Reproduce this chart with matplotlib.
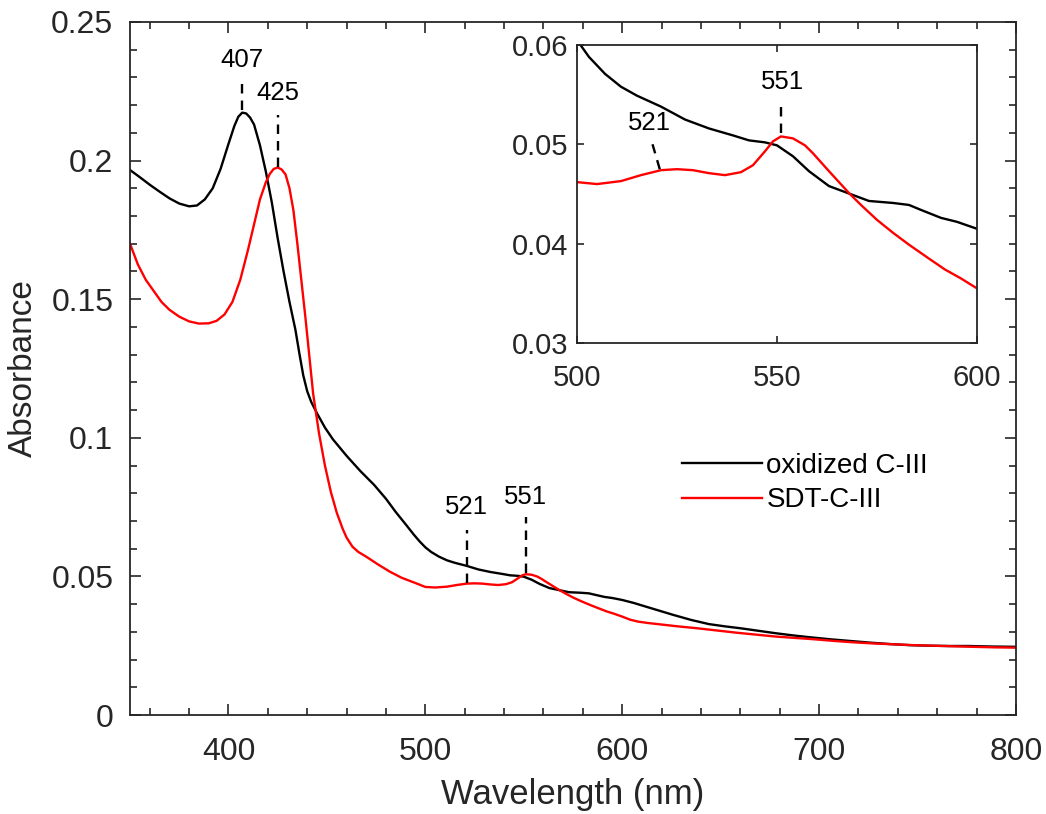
import matplotlib
matplotlib.use('Agg')
import matplotlib.pyplot as plt

plt.rcParams['font.family'] = ['Liberation Sans', 'DejaVu Sans']

# Absorbance spectra (wavelength in nm)
wl_ox = [350, 355, 360, 365, 370, 375, 380, 384, 388, 392, 396, 400, 403, 405, 407,
         409, 411, 413, 416, 419, 422, 425, 428, 431, 434, 436, 438, 440, 442, 445,
         449, 453, 460, 467, 474, 480, 485, 490, 494, 497, 500, 503, 507, 511, 515,
         521, 527, 533, 539, 543, 547, 550, 554, 558, 563, 569, 573, 579, 583, 586,
         591, 595, 600, 606, 612, 619, 626, 635, 644, 652, 660, 670, 678, 687, 696,
         706, 716, 726, 736, 746, 756, 766, 776, 788, 800]
abs_ox = [0.1966, 0.1940, 0.1913, 0.1888, 0.1864, 0.1845, 0.1835, 0.1838, 0.1860, 0.1900,
          0.1970, 0.2060, 0.2125, 0.2158, 0.2173, 0.2170, 0.2155, 0.2130, 0.2055, 0.1960,
          0.1850, 0.1720, 0.1600, 0.1490, 0.1390, 0.1305, 0.1225, 0.1168, 0.1130, 0.1088,
          0.1037, 0.0995, 0.0935, 0.0880, 0.0830, 0.0780, 0.0732, 0.0688, 0.0652, 0.0627,
          0.0605, 0.0588, 0.0571, 0.0558, 0.0549, 0.0538, 0.0525, 0.0516, 0.0509, 0.0504,
          0.0502, 0.0499, 0.0488, 0.0473, 0.0458, 0.0449, 0.0443, 0.0441, 0.0439, 0.0434,
          0.0426, 0.0422, 0.0415, 0.0404, 0.0391, 0.0376, 0.0361, 0.0343, 0.0328, 0.0320,
          0.0313, 0.0303, 0.0295, 0.0287, 0.0280, 0.0273, 0.0267, 0.0261, 0.0256, 0.0252,
          0.0250, 0.0249, 0.0249, 0.0247, 0.0246]

wl_sdt = [350, 354, 358, 362, 366, 370, 375, 380, 385, 390, 394, 398, 402, 406, 410,
          413, 416, 419, 421, 423, 425, 427, 429, 431, 433, 435, 437, 439, 441, 443,
          446, 449, 452, 455, 458, 460, 463, 466, 470, 476, 482, 488, 495, 500, 505,
          511, 516, 521, 525, 529, 533, 537, 541, 544, 547, 549, 551, 554, 557, 559,
          563, 568, 571, 575, 579, 583, 588, 592, 596, 600, 604, 608, 613, 618, 628,
          638, 648, 658, 668, 678, 688, 698, 708, 718, 728, 738, 748, 758, 768, 778,
          790, 800]
abs_sdt = [0.1700, 0.1625, 0.1570, 0.1530, 0.1490, 0.1462, 0.1437, 0.1420, 0.1412, 0.1413,
           0.1422, 0.1445, 0.1490, 0.1570, 0.1680, 0.1770, 0.1860, 0.1922, 0.1952, 0.1970,
           0.1975, 0.1968, 0.1950, 0.1900, 0.1820, 0.1700, 0.1570, 0.1440, 0.1300, 0.1160,
           0.1016, 0.0900, 0.0805, 0.0730, 0.0672, 0.0640, 0.0607, 0.0588, 0.0571, 0.0543,
           0.0517, 0.0495, 0.0476, 0.0462, 0.0460, 0.0463, 0.0469, 0.0474, 0.0475, 0.0474,
           0.0471, 0.0469, 0.0472, 0.0479, 0.0493, 0.0503, 0.0508, 0.0506, 0.0499, 0.0491,
           0.0473, 0.0451, 0.0439, 0.0424, 0.0411, 0.0399, 0.0385, 0.0374, 0.0365, 0.0355,
           0.0344, 0.0337, 0.0332, 0.0328, 0.0320, 0.0313, 0.0305, 0.0297, 0.0290, 0.0283,
           0.0278, 0.0273, 0.0267, 0.0262, 0.0258, 0.0255, 0.0252, 0.0250, 0.0248, 0.0246,
           0.0244, 0.0243]

series_labels = ['oxidized C-III', 'SDT-C-III']

# peak markers on the main plot: (wavelength, line bottom, line top, text y)
main_peaks = [(407, 0.2182, 0.2300, 0.2363),
              (425, 0.1978, 0.2164, 0.2243),
              (521, 0.0475, 0.0667, 0.0751),
              (551, 0.0511, 0.0715, 0.0787)]
# peak markers on the inset: (x bottom, y bottom, x top, y top, text x, text y, label)
inset_peaks = [(520.7, 0.0475, 518.6, 0.0504, 518.2, 0.0521, '521'),
               (551.0, 0.0511, 551.0, 0.0543, 551.4, 0.0563, '551')]

axis_col = '#262626'
dash = (0, (4, 3))
lw = 1.7

fig = plt.figure(figsize=(10.46, 8.14), dpi=100)
ax = fig.add_axes([0.1243, 0.1216, 0.847, 0.8514])

ax.plot(wl_ox, abs_ox, color='black', lw=lw, label=series_labels[0])
ax.plot(wl_sdt, abs_sdt, color='#ff0000', lw=lw, label=series_labels[1])

for x, y0, y1, ty in main_peaks:
    ax.plot([x, x], [y0, y1], color='black', lw=lw, linestyle=dash)
    ax.text(x, ty, str(x), ha='center', va='center', fontsize=18.5, color='black')

ax.set_xlim(350, 800)
ax.set_ylim(0, 0.25)
ax.set_xticks([400, 500, 600, 700, 800])
ax.set_xticks(range(360, 800, 20), minor=True)
ax.set_yticks([0, 0.05, 0.1, 0.15, 0.2, 0.25])
ax.set_yticklabels(['0', '0.05', '0.1', '0.15', '0.2', '0.25'])
ax.set_yticks([i / 100 for i in range(1, 25)], minor=True)
ax.tick_params(which='both', direction='in', top=True, right=True,
               color=axis_col, labelcolor=axis_col, width=1.2)
ax.tick_params(which='major', length=8, labelsize=23)
ax.tick_params(which='minor', length=5)
ax.tick_params(axis='x', which='major', pad=16)
ax.tick_params(axis='y', which='major', pad=12)
for s in ax.spines.values():
    s.set_color(axis_col)
    s.set_linewidth(1.3)
ax.set_xlabel('Wavelength (nm)', fontsize=25, color=axis_col, labelpad=8)
ax.set_ylabel('Absorbance', fontsize=24, color=axis_col, labelpad=9)

ax.legend(loc='upper left', bbox_to_anchor=(0.6227, 0.378), frameon=False,
          fontsize=20, handlelength=2.9, handletextpad=0.15, labelspacing=0.3,
          borderpad=0, borderaxespad=0)

# inset zoom on the Q-band region
ins = fig.add_axes([0.5516, 0.5786, 0.3824, 0.3661])
ins.plot(wl_ox, abs_ox, color='black', lw=lw)
ins.plot(wl_sdt, abs_sdt, color='#ff0000', lw=lw)
for xb, yb, xt, yt, tx, ty, lab in inset_peaks:
    ins.plot([xb, xt], [yb, yt], color='black', lw=lw, linestyle=dash)
    ins.text(tx, ty, lab, ha='center', va='center', fontsize=18.5, color='black')
ins.set_xlim(500, 600)
ins.set_ylim(0.03, 0.06)
ins.set_xticks([500, 550, 600])
ins.set_yticks([0.03, 0.04, 0.05, 0.06])
ins.set_yticklabels(['0.03', '0.04', '0.05', '0.06'])
ins.tick_params(direction='in', top=True, right=True, length=5, width=1.2,
                color=axis_col, labelcolor=axis_col, labelsize=21)
ins.tick_params(axis='x', pad=15)
ins.tick_params(axis='y', pad=6)
for s in ins.spines.values():
    s.set_color(axis_col)
    s.set_linewidth(1.3)

fig.savefig('out.png', dpi=100)
